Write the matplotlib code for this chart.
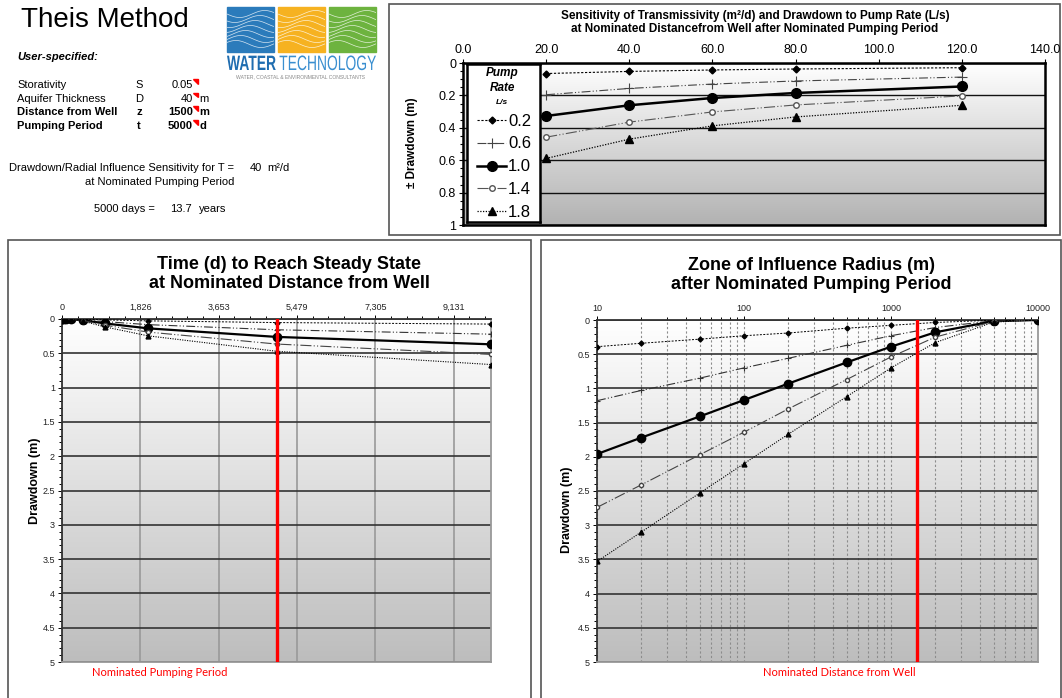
import numpy as np
import matplotlib
matplotlib.use('Agg')
import matplotlib.pyplot as plt
from matplotlib.colors import LinearSegmentedColormap
from matplotlib.patches import Rectangle, Polygon, PathPatch
from matplotlib.lines import Line2D
from matplotlib.textpath import TextPath
from matplotlib.font_manager import FontProperties
from matplotlib.transforms import Affine2D
from matplotlib.ticker import MultipleLocator, LogLocator, NullFormatter

W, H = 1062, 698

# --- user inputs shown on the sheet ---
param_names = ['Storativity', 'Aquifer Thickness', 'Distance from Well', 'Pumping Period']
param_syms = ['S', 'D', 'z', 't']
param_vals = ['0.05', '40', '1500', '5000']
param_units = ['', 'm', 'm', 'd']
param_bold = [False, False, True, True]

pump_rates = ['0.2', '0.6', '1.0', '1.4', '1.8']

# drawdown (m) vs transmissivity (m2/d), at nominated distance / period
transmissivity = [20, 40, 60, 80, 120]
sens_q02 = [0.065, 0.052, 0.043, 0.037, 0.029]
sens_q06 = [0.196, 0.157, 0.130, 0.111, 0.087]
sens_q10 = [0.327, 0.261, 0.216, 0.185, 0.145]
sens_q14 = [0.458, 0.365, 0.302, 0.259, 0.203]
sens_q18 = [0.589, 0.470, 0.388, 0.333, 0.261]

# drawdown (m) vs time (d) at nominated distance
times = [1, 10, 50, 100, 200, 500, 1000, 2000, 5000, 10000]
time_q02 = [0, 0, 0, 0, 0.0, 0.004, 0.013, 0.027, 0.052, 0.074]
time_q06 = [0, 0, 0, 0, 0.001, 0.011, 0.038, 0.082, 0.157, 0.221]
time_q10 = [0, 0, 0, 0, 0.001, 0.018, 0.064, 0.136, 0.261, 0.369]
time_q14 = [0, 0, 0, 0, 0.002, 0.026, 0.090, 0.190, 0.365, 0.516]
time_q18 = [0, 0, 0, 0, 0.002, 0.033, 0.115, 0.245, 0.470, 0.664]
time_tick_pos = [0, 1826.25, 3652.5, 5478.75, 7305, 9131.25]
time_tick_labels = ['0', '1,826', '3,653', '5,479', '7,305', '9,131']

# drawdown (m) vs radius (m) after nominated period
radius = [10, 20, 50, 100, 200, 500, 1000, 2000, 5000, 10000]
rad_q02 = [0.39, 0.34, 0.28, 0.23, 0.19, 0.12, 0.078, 0.036, 0.003, 0.0]
rad_q06 = [1.18, 1.03, 0.85, 0.70, 0.56, 0.37, 0.23, 0.11, 0.01, 0.0]
rad_q10 = [1.96, 1.72, 1.41, 1.17, 0.93, 0.62, 0.39, 0.18, 0.016, 0.0]
rad_q14 = [2.74, 2.41, 1.97, 1.64, 1.30, 0.87, 0.54, 0.25, 0.02, 0.0]
rad_q18 = [3.53, 3.10, 2.53, 2.10, 1.67, 1.12, 0.70, 0.33, 0.03, 0.0]

nominated_t = 5000
nominated_r = 1500

sens_series = [sens_q02, sens_q06, sens_q10, sens_q14, sens_q18]
time_series = [time_q02, time_q06, time_q10, time_q14, time_q18]
rad_series = [rad_q02, rad_q06, rad_q10, rad_q14, rad_q18]

# line styles per pump rate
big_styles = [
    dict(color='k', ls=(0, (2, 1.5)), lw=0.8, marker='D', ms=3.5),
    dict(color='#444444', ls=(0, (8, 2, 1, 2, 1, 2)), lw=0.8, marker='+', ms=7, mew=0.8),
    dict(color='k', ls='-', lw=1.8, marker='o', ms=7),
    dict(color='#555555', ls=(0, (10, 2, 1, 2, 1, 2)), lw=0.8, marker='o', ms=4, mfc='white'),
    dict(color='k', ls=(0, (1, 1.2)), lw=0.9, marker='^', ms=5.5),
]
small_styles = [
    dict(color='k', ls=(0, (2, 1.5)), lw=0.7, marker='D', ms=2.5),
    dict(color='#333333', ls=(0, (8, 2, 1, 2, 1, 2)), lw=0.8, marker='+', ms=5, mew=0.8),
    dict(color='k', ls='-', lw=1.6, marker='o', ms=6),
    dict(color='#444444', ls=(0, (10, 2, 1, 2, 1, 2)), lw=0.8, marker='o', ms=3, mfc='white'),
    dict(color='k', ls=(0, (1, 1.2)), lw=0.8, marker='^', ms=3.5),
]

plt.rcParams['font.family'] = ['Liberation Sans', 'DejaVu Sans']

fig = plt.figure(figsize=(W / 100, H / 100), dpi=100)
pxT = Affine2D().scale(1 / W, -1 / H).translate(0, 1) + fig.transFigure


def px_rect(x0, y0, x1, y1):
    return [x0 / W, 1 - y1 / H, (x1 - x0) / W, (y1 - y0) / H]


def txt(x, y, s, **kw):
    kw.setdefault('va', 'center')
    kw.setdefault('fontsize', 8)
    return fig.text(x, y, s, transform=pxT, **kw)


def gradient_axes(rect, bottom_col):
    bg = fig.add_axes(rect, zorder=0)
    cmap = LinearSegmentedColormap.from_list('g', ['#ffffff', bottom_col])
    bg.imshow(np.linspace(0, 1, 256).reshape(-1, 1), aspect='auto', cmap=cmap,
              extent=(0, 1, 0, 1))
    bg.axis('off')
    ax = fig.add_axes(rect, zorder=1)
    ax.set_facecolor('none')
    return ax


# ---------------- header block ----------------
txt(21, 20, 'Theis Method', fontsize=20)
txt(17, 57, 'User-specified:', fontsize=8, fontweight='bold', style='italic')
for i, name in enumerate(param_names):
    y = 85 + i * 13.7
    fw = 'bold' if param_bold[i] else 'normal'
    txt(17, y, name, fontweight=fw)
    txt(139, y, param_syms[i], ha='center', fontweight=fw)
    txt(193, y, param_vals[i], ha='right', fontweight=fw)
    txt(199, y, param_units[i], fontweight=fw)
    fig.add_artist(Polygon([[193, y - 6], [197.5, y - 6], [197.5, y - 1.5]],
                           closed=True, color='red', transform=pxT))

txt(234, 168, 'Drawdown/Radial Influence Sensitivity for T =', ha='right')
txt(262, 168, '40', ha='right')
txt(267, 168, 'm²/d')
txt(234, 182, 'at Nominated Pumping Period', ha='right')
txt(155, 209, '5000 days =', ha='right')
txt(192, 209, '13.7', ha='right')
txt(199, 209, 'years')

# logo
logo_boxes = [(227, '#2b7bbb'), (278, '#f6b221'), (329, '#6db33f')]
for x0, col in logo_boxes:
    box = Rectangle((x0, 7), 47, 45, color=col, transform=pxT)
    fig.add_artist(box)
    xs = np.linspace(x0, x0 + 47, 60)
    for k in range(7):
        ys = 14 + k * 5 + 3.5 * np.sin((xs - x0) / 8.0 + k * 0.6)
        ln = Line2D(xs, ys, color='white', lw=0.5, alpha=0.8, transform=pxT)
        ln.set_clip_path(box)
        fig.add_artist(ln)

# condensed logo wordmark: text paths squeezed to the logo width
tp1 = TextPath((0, 0), 'WATER', size=1, prop=FontProperties(family='Liberation Sans', weight='bold'))
tp2 = TextPath((0, 0), 'TECHNOLOGY', size=1, prop=FontProperties(family='Liberation Sans'))
w1, w2, gap = tp1.get_extents().x1, tp2.get_extents().x1, 0.25
sx = 149 / (w1 + gap + w2)
sy = 15 / 0.72
fig.add_artist(PathPatch(tp1, transform=Affine2D().scale(sx, -sy).translate(227, 70) + pxT,
                         color='#1f6db0', lw=0))
fig.add_artist(PathPatch(tp2, transform=Affine2D().scale(sx, -sy).translate(227 + (w1 + gap) * sx, 70) + pxT,
                         color='#3a8fd0', lw=0))
txt(301, 77, 'WATER, COASTAL & ENVIRONMENTAL CONSULTANTS', ha='center',
    color='#888888', fontsize=3.6)

# panel frames
for (x0, y0, x1, y1) in [(389, 4, 1060, 235), (8, 240, 531, 699), (541, 240, 1061, 699)]:
    fig.add_artist(Rectangle((x0, y0), x1 - x0, y1 - y0, fill=False,
                             ec='#555555', lw=1.2, transform=pxT))

# ---------------- top: sensitivity chart ----------------
ax1 = gradient_axes(px_rect(463, 63, 1045, 225), '#b2b2b2')
for vals, st in zip(sens_series, big_styles):
    ax1.plot(transmissivity, vals, **st, zorder=3)
ax1.set_xlim(0, 140)
ax1.set_ylim(1, 0)
ax1.xaxis.tick_top()
ax1.set_xticks(np.arange(0, 141, 20))
ax1.set_xticklabels([f'{v:.1f}' for v in np.arange(0, 141, 20)], fontsize=9)
ax1.set_yticks([0, 0.2, 0.4, 0.6, 0.8, 1.0])
ax1.set_yticklabels(['0', '0.2', '0.4', '0.6', '0.8', '1'], fontsize=9)
ax1.yaxis.set_minor_locator(MultipleLocator(0.05))
ax1.tick_params(which='both', direction='out', length=3, width=0.8, pad=2)
ax1.tick_params(which='minor', length=2)
ax1.yaxis.grid(True, color='#111111', lw=1)
for sp in ax1.spines.values():
    sp.set_linewidth(1.8)
    sp.set_color('k')
txt(755, 16, 'Sensitivity of Transmissivity (m²/d) and Drawdown to Pump Rate (L/s)',
    ha='center', fontsize=8.5, fontweight='bold')
txt(755, 29, 'at Nominated Distancefrom Well after Nominated Pumping Period',
    ha='center', fontsize=8.5, fontweight='bold')
txt(412, 143, '± Drawdown (m)', ha='center', rotation=90, fontsize=8.5,
    fontweight='bold')

# legend box drawn as an inset
leg = fig.add_axes(px_rect(467, 64, 540, 222), zorder=4)
leg.set_xlim(467, 540)
leg.set_ylim(222, 64)
leg.set_xticks([])
leg.set_yticks([])
for sp in leg.spines.values():
    sp.set_linewidth(1.8)
leg.text(502, 73, 'Pump', ha='center', va='center', fontsize=8.5,
         fontweight='bold', style='italic')
leg.text(502, 88, 'Rate', ha='center', va='center', fontsize=8.5,
         fontweight='bold', style='italic')
leg.text(502, 102, 'L/s', ha='center', va='center', fontsize=6,
         fontweight='bold', style='italic')
for i, (lab, st) in enumerate(zip(pump_rates, big_styles)):
    y = 120 + i * 22.8
    leg.plot([477, 506], [y, y], **{k: v for k, v in st.items() if k != 'marker'})
    leg.plot([491.5], [y], ls='none', **{k: v for k, v in st.items() if k not in ('ls', 'lw')})
    leg.text(508, y + 1, lab, va='center', fontsize=12)


# ---------------- bottom charts ----------------
def style_bottom(ax):
    ax.set_ylim(5, 0)
    ax.set_yticks(np.arange(0, 5.01, 0.5))
    ax.set_yticklabels(['0', '0.5', '1', '1.5', '2', '2.5', '3', '3.5', '4', '4.5', '5'])
    ax.yaxis.set_minor_locator(MultipleLocator(0.1))
    ax.xaxis.tick_top()
    ax.tick_params(which='both', labelsize=6.5, labelcolor='#222222', length=3,
                   width=0.7, pad=2)
    ax.tick_params(which='minor', length=2)
    ax.yaxis.grid(True, color='#333333', lw=1.2)
    ax.spines['left'].set_color('#333333')
    ax.spines['top'].set_color('#333333')
    ax.spines['right'].set_color('#999999')
    ax.spines['bottom'].set_color('#999999')
    for sp in ax.spines.values():
        sp.set_linewidth(1.3)


ax2 = gradient_axes(px_rect(62, 319, 491, 662), '#bdbdbd')
for vals, st in zip(time_series, small_styles):
    ax2.plot(times, vals, **st, zorder=3)
ax2.axvline(nominated_t, color='red', lw=2.4, zorder=4)
ax2.set_xlim(0, 10000)
style_bottom(ax2)
ax2.set_xticks(time_tick_pos)
ax2.set_xticklabels(time_tick_labels)
ax2.xaxis.set_minor_locator(MultipleLocator(365.25))
ax2.xaxis.grid(True, color='#999999', lw=1.2)
ax2.set_axisbelow(True)
txt(289, 274, 'Time (d) to Reach Steady State\nat Nominated Distance from Well',
    ha='center', fontsize=13, fontweight='bold', linespacing=1.15)
txt(35, 481, 'Drawdown (m)', ha='center', rotation=90, fontsize=9, fontweight='bold')
txt(92, 673, 'Nominated Pumping Period', color='red', fontsize=8, family=['Lato', 'DejaVu Sans'])

ax3 = gradient_axes(px_rect(597, 320, 1038, 662), '#bdbdbd')
for vals, st in zip(rad_series, small_styles):
    ax3.plot(radius, vals, **st, zorder=3)
ax3.axvline(nominated_r, color='red', lw=2.4, zorder=4)
ax3.set_xscale('log')
ax3.set_xlim(10, 10000)
style_bottom(ax3)
ax3.set_xticks([10, 100, 1000, 10000])
ax3.set_xticklabels(['10', '100', '1000', '10000'])
ax3.xaxis.set_minor_locator(LogLocator(base=10, subs=np.arange(2, 10)))
ax3.xaxis.set_minor_formatter(NullFormatter())
ax3.xaxis.grid(True, which='both', color='#8c8c8c', lw=0.8, ls=(0, (2, 2)))
ax3.set_axisbelow(True)
txt(811, 275, 'Zone of Influence Radius (m)\nafter Nominated Pumping Period',
    ha='center', fontsize=13, fontweight='bold', linespacing=1.15)
txt(567, 510, 'Drawdown (m)', ha='center', rotation=90, fontsize=9, fontweight='bold')
txt(763, 672, 'Nominated Distance from Well', color='red', fontsize=8, family=['Lato', 'DejaVu Sans'])

fig.savefig('out.png', dpi=100)
